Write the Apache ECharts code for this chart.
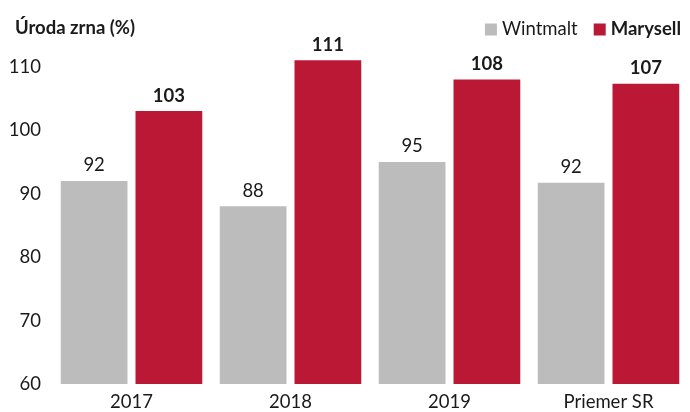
<!DOCTYPE html>
<html>
<head>
<meta charset="utf-8">
<title>Úroda zrna</title>
<script src="https://cdn.jsdelivr.net/npm/echarts@6/dist/echarts.min.js"></script>
<style>
  html, body { margin: 0; padding: 0; background: #fff; }
  #main { width: 690px; height: 412px; }
</style>
</head>
<body>
<div id="main"></div>
<script>
var categories = ['2017', '2018', '2019', 'Priemer SR'];
var wintmalt = [92, 88, 95, 91.7];
var marysell = [103, 111, 108, 107.3];
var yTicks = [60, 70, 80, 90, 100, 110];

var font = 'Lato, "Open Sans", sans-serif';
var fs = 18.5;
var chart = echarts.init(document.getElementById('main'));

chart.setOption({
  animation: false,
  textStyle: { fontFamily: font },
  title: {
    text: 'Úroda zrna (%)',
    left: 10, top: 14,
    textStyle: { fontFamily: font, fontSize: fs, fontWeight: 'bold', color: '#1a1a1a' }
  },
  legend: {
    right: 4, top: 15,
    itemWidth: 12, itemHeight: 12, itemGap: 16,
    icon: 'rect',
    data: [
      { name: 'Wintmalt', textStyle: { fontWeight: 'normal' } },
      { name: 'Marysell', textStyle: { fontWeight: 'bold' } }
    ],
    textStyle: { fontFamily: font, fontSize: fs, color: '#1a1a1a', padding: [0, 0, 0, 0] }
  },
  grid: { left: 52, right: 2, top: 54, bottom: 26 },
  xAxis: {
    type: 'category',
    data: categories,
    axisLine: { show: false },
    axisTick: { show: false },
    axisLabel: { fontFamily: font, fontSize: fs, color: '#1a1a1a', margin: 9 }
  },
  yAxis: {
    type: 'value',
    min: yTicks[0], max: 112, interval: 10,
    splitLine: { show: false },
    axisLine: { show: false },
    axisTick: { show: false },
    axisLabel: {
      fontFamily: font, fontSize: fs, color: '#1a1a1a', margin: 11,
      showMaxLabel: false,
      formatter: function (v) { return yTicks.indexOf(v) >= 0 ? v : ''; }
    }
  },
  series: [
    {
      name: 'Wintmalt',
      type: 'bar',
      data: wintmalt,
      barGap: '12%',
      barCategoryGap: '11%',
      itemStyle: { color: '#bcbcbc' },
      label: {
        show: true, position: 'top', distance: 6,
        fontFamily: font, fontSize: fs, color: '#1a1a1a',
        formatter: function (p) { return Math.round(p.value); }
      }
    },
    {
      name: 'Marysell',
      type: 'bar',
      data: marysell,
      itemStyle: { color: '#ba1834' },
      label: {
        show: true, position: 'top', distance: 6,
        fontFamily: font, fontSize: fs, fontWeight: 'bold', color: '#1a1a1a',
        formatter: function (p) { return Math.round(p.value); }
      }
    }
  ]
});
</script>
</body>
</html>
